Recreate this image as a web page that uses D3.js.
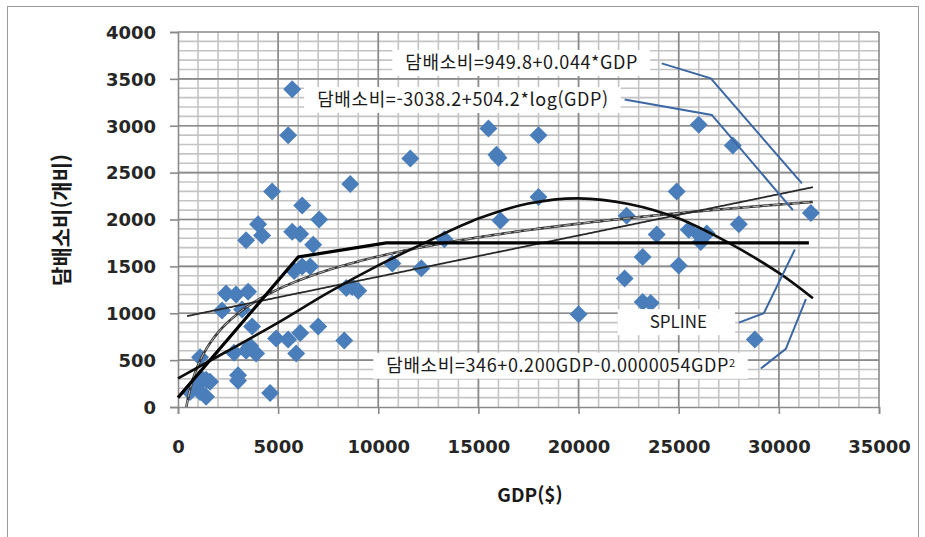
<!DOCTYPE html>
<html lang="ko">
  <head>
    <meta charset="utf-8" />
    <title>담배소비와 GDP</title>
    <style>
      body { margin: 0; background: #fff; }
      svg text { font-family: "Noto Sans CJK KR", "Noto Sans", sans-serif; fill: #1a1a1a; }
      .tick-lbl { font-family: "DejaVu Sans", sans-serif !important; font-size: 18px; font-weight: bold; fill: #262626; }
    </style>
  </head>
  <body>
    <div id="vis"></div>
    <script src="https://cdn.jsdelivr.net/npm/d3@7/dist/d3.min.js"></script>
    <script>
      // GDP ($) and cigarette consumption, one entry per country
      const gdp = [5700, 5500, 8600, 4700, 6200, 7050, 4000, 5700, 6100, 3400, 4200, 6750,
        6200, 5800, 6600, 8700, 9000, 8400, 2400, 2900, 3500, 2200, 3200, 3700, 7000,
        4900, 5500, 6100, 8300, 3600, 3900, 2800, 5900, 3400, 1100, 3000, 3000, 4600,
        600, 900, 1100, 1200, 1400, 1400, 1600, 11600, 15500, 16000, 15900, 18000, 18000,
        16100, 13300, 10700, 12150, 20000, 22400, 22300, 26000, 27700, 24900, 31600,
        28000, 23900, 25500, 26000, 26400, 26100, 23200, 25000, 23200, 23600, 28800];
      const cigs = [3390, 2900, 2380, 2300, 2150, 2000, 1950, 1870, 1845, 1780, 1830, 1730,
        1500, 1450, 1500, 1280, 1240, 1270, 1210, 1200, 1230, 1030, 1040, 860, 860,
        730, 720, 790, 710, 650, 570, 580, 570, 600, 530, 340, 280, 150,
        160, 230, 160, 300, 290, 110, 270, 2650, 2970, 2660, 2690, 2900, 2240,
        1990, 1790, 1530, 1480, 990, 2040, 1370, 3010, 2790, 2300, 2070,
        1950, 1840, 1890, 1840, 1850, 1760, 1600, 1510, 1120, 1110, 720];

      const xTicks = [0, 5000, 10000, 15000, 20000, 25000, 30000, 35000];
      const yTicks = [0, 500, 1000, 1500, 2000, 2500, 3000, 3500, 4000];

      // fitted models, as printed on the chart
      const linCoef = [949.8, 0.044];
      const logCoef = [-3038.2, 504.2];
      const quadGdp = [0, 2500, 5000, 7500, 10000, 12500, 15000, 17500, 20000, 22500, 25000, 27500, 30000, 31700];
      const quadVal = [306, 600, 900, 1220, 1510, 1770, 2010, 2170, 2225, 2165, 2010, 1750, 1430, 1160];
      const splineGdp = [0, 6000, 10400, 31500];
      const splineVal = [100, 1600, 1750, 1750];

      // annotation labels: text start / centre (data units) and leader line points
      const labels = [
        { text: "담배소비=949.8+0.044*GDP", x: 11350, y: 3670,
          lead: [[24150, 3665], [26600, 3505], [31150, 2385]] },
        { text: "담배소비=-3038.2+504.2*log(GDP)", x: 6950, y: 3275,
          lead: [[22300, 3280], [26650, 3115], [30700, 2100]] },
        { text: "SPLINE", x: 23550, y: 905, padL: 32, padR: 28, size: 17, ls: 0,
          lead: [[28000, 900], [29250, 1000], [30800, 1680]] },
        { text: "담배소비=346+0.200GDP-0.0000054GDP", sup: "2", x: 10400, y: 440,
          lead: [[29100, 410], [30350, 620], [31350, 1150]] }
      ];

      const W = 925, H = 537;
      const m = { left: 178, right: 879, top: 32, bottom: 407 };
      const x = d3.scaleLinear().domain([0, 35000]).range([m.left, m.right]);
      const y = d3.scaleLinear().domain([0, 4000]).range([m.bottom, m.top]);

      const svg = d3.select("#vis").append("svg").attr("width", W).attr("height", H);
      svg.append("rect").attr("x", 7.5).attr("y", 6.5).attr("width", 911).attr("height", 540)
        .attr("fill", "#fff").attr("stroke", "#9a9a9a");

      // grid: minor then major
      const grid = svg.append("g");
      grid.selectAll(".vmin").data(d3.range(1000, 35000, 1000)).enter().append("line")
        .attr("x1", d => x(d)).attr("x2", d => x(d)).attr("y1", m.top).attr("y2", m.bottom)
        .attr("stroke", "#c4c4c4").attr("stroke-width", 1.6);
      grid.selectAll(".hmin").data(d3.range(100, 4000, 100)).enter().append("line")
        .attr("y1", d => y(d)).attr("y2", d => y(d)).attr("x1", m.left).attr("x2", m.right)
        .attr("stroke", "#c4c4c4").attr("stroke-width", 1.6);
      grid.selectAll(".vmaj").data(xTicks.slice(1)).enter().append("line")
        .attr("x1", d => x(d)).attr("x2", d => x(d)).attr("y1", m.top).attr("y2", m.bottom)
        .attr("stroke", "#8a8a8a").attr("stroke-width", 1.6);
      grid.selectAll(".hmaj").data(yTicks.slice(1)).enter().append("line")
        .attr("y1", d => y(d)).attr("y2", d => y(d)).attr("x1", m.left).attr("x2", m.right)
        .attr("stroke", "#8a8a8a").attr("stroke-width", 1.6);

      // axes
      const xAxis = svg.append("g").attr("transform", `translate(0,${m.bottom})`)
        .call(d3.axisBottom(x).tickValues(xTicks).tickSize(7).tickFormat(d3.format("d")));
      const yAxis = svg.append("g").attr("transform", `translate(${m.left},0)`)
        .call(d3.axisLeft(y).tickValues(yTicks).tickSize(8).tickFormat(d3.format("d")));
      [xAxis, yAxis].forEach(a => {
        a.select(".domain").attr("stroke", "#8a8a8a").attr("stroke-width", 1.6);
        a.selectAll(".tick line").attr("stroke", "#8a8a8a").attr("stroke-width", 1.6);
        a.selectAll(".tick text").attr("class", "tick-lbl");
      });
      xAxis.selectAll(".tick text").attr("dy", "0").attr("y", 46);
      yAxis.selectAll(".tick text").attr("x", -22).attr("dy", "0.35em");

      // points
      const pts = gdp.map((g, i) => [g, cigs[i]]);
      svg.append("g").selectAll("path").data(pts).enter().append("path")
        .attr("d", "M0,-9L9,0L0,9L-9,0Z")
        .attr("transform", d => `translate(${x(d[0])},${y(d[1])})`)
        .attr("fill", "#4a7ebb");

      const line = d3.line().x(d => x(d[0])).y(d => y(d[1]));
      const curve = (f, a, b) => d3.range(a, b, 100).concat([b]).map(g => [g, f(g)]);

      // log fit (striped)
      const logPts = curve(g => logCoef[0] + logCoef[1] * Math.log(g), 415, 31700);
      svg.append("path").attr("d", line(logPts)).attr("fill", "none")
        .attr("stroke", "#3a3a3a").attr("stroke-width", 2.6);
      svg.append("path").attr("d", line(logPts)).attr("fill", "none")
        .attr("stroke", "#d8d8d8").attr("stroke-width", 0.8).attr("stroke-dasharray", "7,3");
      // linear fit
      svg.append("path").attr("d", line(curve(g => linCoef[0] + linCoef[1] * g, 450, 31700)))
        .attr("fill", "none").attr("stroke", "#2a2a2a").attr("stroke-width", 1.8);
      // quadratic fit
      svg.append("path")
        .attr("d", line.curve(d3.curveCatmullRom)(quadGdp.map((g, i) => [g, quadVal[i]])))
        .attr("fill", "none").attr("stroke", "#0d0d0d").attr("stroke-width", 2.6);
      line.curve(d3.curveLinear);
      // spline
      svg.append("path").attr("d", line(splineGdp.map((g, i) => [g, splineVal[i]])))
        .attr("fill", "none").attr("stroke", "#000").attr("stroke-width", 3.2);

      // annotation labels
      const ann = svg.append("g");
      labels.forEach(l => {
        const g = ann.append("g");
        const box = g.append("rect").attr("fill", "#fff");
        const t = g.append("text").attr("x", x(l.x)).attr("y", y(l.y)).attr("dy", "0.35em")
          .style("font-size", (l.size || 18) + "px")
          .style("letter-spacing", (l.ls === undefined ? 0.6 : l.ls) + "px").text(l.text);
        if (l.sup) t.append("tspan").attr("dy", "-0.45em").style("font-size", "11px").text(l.sup);
        const bb = t.node().getBBox();
        const pl = l.padL || 13, pr = l.padR || 12;
        box.attr("x", bb.x - pl).attr("y", y(l.y) - 13).attr("width", bb.width + pl + pr).attr("height", 26);
        ann.append("path").attr("d", line(l.lead)).attr("fill", "none")
          .attr("stroke", "#3d68a3").attr("stroke-width", 2);
      });

      // axis titles
      svg.append("text").attr("x", 530).attr("y", 495).attr("text-anchor", "middle")
        .attr("dy", "0.35em").style("font-size", "19px").style("font-weight", "bold").text("GDP($)");
      svg.append("text").attr("transform", "translate(62,220) rotate(-90)").attr("text-anchor", "middle")
        .attr("dy", "0.35em").style("font-size", "21px").style("font-weight", "bold").text("담배소비(개비)");
    </script>
  </body>
</html>
